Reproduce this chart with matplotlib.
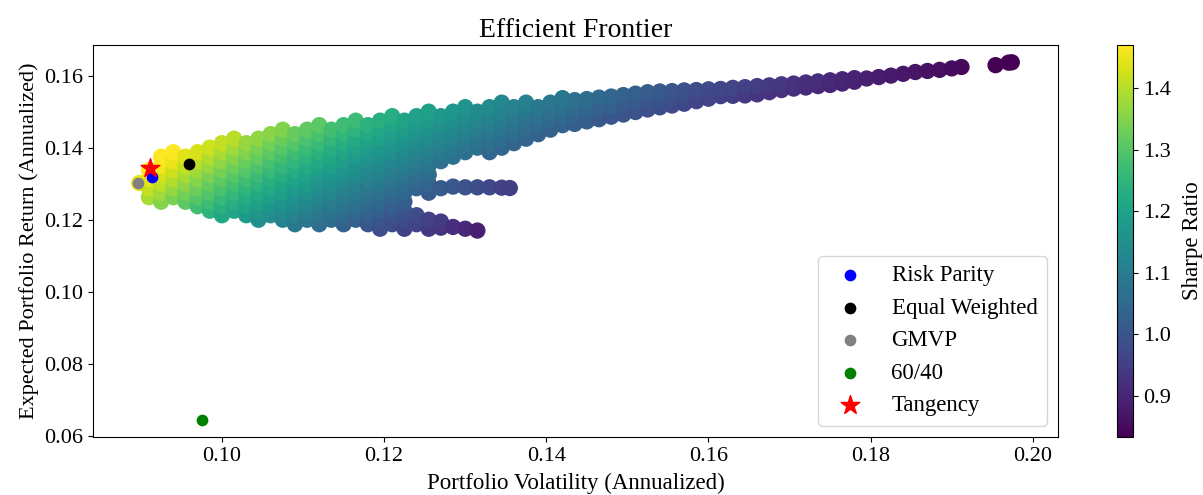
import numpy as np
import matplotlib.pyplot as plt

plt.rcParams['font.family'] = ['Liberation Serif', 'DejaVu Serif']

# random-portfolio cloud (percent units)
cloud_vol = [8.98, 9.10, 9.25, 9.40, 9.55, 9.70, 9.85, 10.00, 10.15, 10.30,
             10.45, 10.60, 10.75, 10.90, 11.05, 11.20, 11.35, 11.50, 11.65, 11.80,
             11.95, 12.10, 12.25, 12.40, 12.55, 12.70, 12.85, 13.00, 13.15, 13.30,
             13.45, 13.55, 13.60, 13.75, 13.90, 14.05, 14.20, 14.35, 14.50, 14.65,
             14.80, 14.95, 15.10, 15.25, 15.40, 15.55, 15.70, 15.85, 16.00, 16.15,
             16.30, 16.45, 16.60, 16.75, 16.90, 17.05, 17.20, 17.35, 17.50, 17.65,
             17.80, 17.95, 18.10, 18.25, 18.40, 18.55, 18.70, 18.85, 19.00, 19.12,
             19.54, 19.70, 19.74]
cloud_ret = [
    [13.02],
    [12.625, 12.875, 13.125, 13.375],
    [12.5, 12.75, 13.0, 13.25, 13.5, 13.75],
    [12.625, 12.875, 13.125, 13.375, 13.625, 13.875],
    [12.5, 12.75, 13.0, 13.25, 13.5, 13.75],
    [12.375, 12.625, 12.875, 13.125, 13.375, 13.625, 13.875],
    [12.25, 12.5, 12.75, 13.0, 13.25, 13.5, 13.75, 14.0],
    [12.125, 12.375, 12.625, 12.875, 13.125, 13.375, 13.625, 13.875, 14.125],
    [12.25, 12.5, 12.75, 13.0, 13.25, 13.5, 13.75, 14.0, 14.25],
    [12.125, 12.375, 12.625, 12.875, 13.125, 13.375, 13.625, 13.875, 14.125],
    [12.0, 12.25, 12.5, 12.75, 13.0, 13.25, 13.5, 13.75, 14.0, 14.25],
    [12.125, 12.375, 12.625, 12.875, 13.125, 13.375, 13.625, 13.875, 14.125, 14.375],
    [12.0, 12.25, 12.5, 12.75, 13.0, 13.25, 13.5, 13.75, 14.0, 14.25, 14.5],
    [11.875, 12.125, 12.375, 12.625, 12.875, 13.125, 13.375, 13.625, 13.875, 14.125, 14.375],
    [12.0, 12.25, 12.5, 12.75, 13.0, 13.25, 13.5, 13.75, 14.0, 14.25, 14.5],
    [11.875, 12.125, 12.375, 12.625, 12.875, 13.125, 13.375, 13.625, 13.875, 14.125, 14.375, 14.625],
    [12.0, 12.25, 12.5, 12.75, 13.0, 13.25, 13.5, 13.75, 14.0, 14.25, 14.5],
    [11.875, 12.125, 12.375, 12.625, 12.875, 13.125, 13.375, 13.625, 13.875, 14.125, 14.375, 14.625],
    [12.0, 12.25, 12.5, 12.75, 13.0, 13.25, 13.5, 13.75, 14.0, 14.25, 14.5, 14.75],
    [11.875, 12.125, 12.375, 12.625, 12.875, 13.125, 13.375, 13.625, 13.875, 14.125, 14.375, 14.625],
    [11.75, 12.0, 12.25, 12.5, 12.75, 13.0, 13.25, 13.5, 13.75, 14.0, 14.25, 14.5, 14.75],
    [11.875, 12.125, 12.375, 12.625, 12.875, 13.125, 13.375, 13.625, 13.875, 14.125, 14.375, 14.625, 14.875],
    [11.75, 12.0, 12.25, 12.5, 12.75, 13.0, 13.25, 13.5, 13.75, 14.0, 14.25, 14.5, 14.75],
    [11.875, 12.125, 12.875, 13.125, 13.375, 13.625, 13.875, 14.125, 14.375, 14.625, 14.875],
    [11.75, 12.0, 12.75, 13.0, 13.25, 13.5, 13.75, 14.0, 14.25, 14.5, 14.75, 15.0],
    [11.78, 11.95, 12.875, 13.625, 13.875, 14.125, 14.375, 14.625, 14.875],
    [11.8, 12.92, 13.75, 14.0, 14.25, 14.5, 14.75, 15.0],
    [11.75, 12.9, 13.875, 14.125, 14.375, 14.625, 14.875, 15.125],
    [11.7, 12.9, 14.0, 14.25, 14.5, 14.75, 15.0],
    [12.9, 13.875, 14.125, 14.375, 14.625, 14.875, 15.125],
    [12.89, 14.0, 14.25, 14.5, 14.75, 15.0, 15.25],
    [12.88],
    [14.125, 14.375, 14.625, 14.875, 15.125],
    [14.25, 14.5, 14.75, 15.0, 15.25],
    [14.375, 14.625, 14.875, 15.125],
    [14.5, 14.75, 15.0, 15.25],
    [14.625, 14.875, 15.125, 15.375],
    [14.66, 14.88, 15.10, 15.32],
    [14.73, 14.94, 15.14, 15.35],
    [14.79, 15.09, 15.39],
    [14.86, 15.14, 15.42],
    [14.92, 15.19, 15.46],
    [14.99, 15.25, 15.50],
    [15.06, 15.30, 15.54],
    [15.12, 15.34, 15.56],
    [15.17, 15.37, 15.57],
    [15.22, 15.40, 15.59],
    [15.29, 15.60],
    [15.36, 15.62],
    [15.43, 15.63],
    [15.44, 15.66],
    [15.45, 15.68],
    [15.48, 15.71],
    [15.54, 15.73],
    [15.60, 15.76],
    [15.64, 15.78],
    [15.67, 15.81],
    [15.71, 15.84],
    [15.74, 15.87],
    [15.78, 15.90],
    [15.83, 15.93],
    [15.92],
    [15.96],
    [16.00],
    [16.05],
    [16.10],
    [16.13],
    [16.16],
    [16.20],
    [16.24],
    [16.29],
    [16.36],
    [16.37],
]

# named portfolios: (volatility, return)
special_names = ['Risk Parity', 'Equal Weighted', 'GMVP', '60/40']
special_vol = [0.0914, 0.0959, 0.0897, 0.0975]
special_ret = [0.1319, 0.1356, 0.1301, 0.0645]
special_colors = ['blue', 'black', 'gray', 'green']
tangency_vol = 0.0911
tangency_ret = 0.1343

vol = np.array([v for v, col in zip(cloud_vol, cloud_ret) for _ in col]) / 100
ret = np.array([r for col in cloud_ret for r in col]) / 100
sharpe = ret / vol

fig = plt.figure(figsize=(12.03, 4.95), dpi=100)
ax = fig.add_axes([93 / 1203, 58 / 495, 965 / 1203, 392 / 495])
cax = fig.add_axes([1117 / 1203, 58 / 495, 16 / 1203, 392 / 495])

sc = ax.scatter(vol, ret, c=sharpe, cmap='viridis', s=115, vmin=0.833, vmax=1.47)
for name, v, r, col in zip(special_names, special_vol, special_ret, special_colors):
    ax.scatter(v, r, color=col, s=55, label=name)
ax.scatter(tangency_vol, tangency_ret, color='red', marker='*', s=200, label='Tangency')

cb = fig.colorbar(sc, cax=cax)
cb.set_label('Sharpe Ratio', fontsize=16.5, labelpad=8)
cb.ax.tick_params(labelsize=16)

ax.set_xlim(0.0841, 0.2031)
ax.set_ylim(0.0597, 0.1685)
ax.set_title('Efficient Frontier', fontsize=20)
ax.set_xlabel('Portfolio Volatility (Annualized)', fontsize=16.5, labelpad=5)
ax.set_ylabel('Expected Portfolio Return (Annualized)', fontsize=16)
ax.tick_params(labelsize=16)
ax.legend(loc='lower right', fontsize=16.5)

fig.savefig('out.png', dpi=100)
